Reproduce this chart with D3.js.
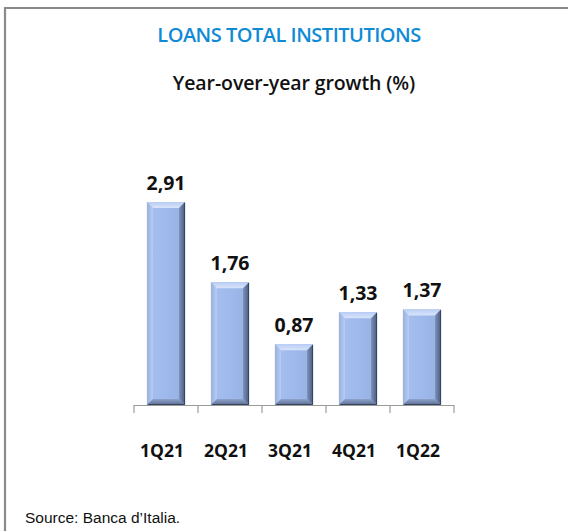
<!DOCTYPE html>
<html>
<head>
<meta charset="utf-8">
<script src="https://cdn.jsdelivr.net/npm/d3@7"></script>
<style>
  html, body { margin: 0; padding: 0; background: #fff; }
  svg { display: block; }
</style>
</head>
<body>
<svg id="chart" width="568" height="531"></svg>
<script>
// Quarterly year-over-year growth of total loans (%)
const quarters = ["1Q21", "2Q21", "3Q21", "4Q21", "1Q22"];
const growth = [2.91, 1.76, 0.87, 1.33, 1.37];
const chartTitle = "LOANS TOTAL INSTITUTIONS";
const chartSubtitle = "Year-over-year growth (%)";
const sourceNote = "Source: Banca d\u2019Italia.";

const svg = d3.select("#chart");
const W = 568, H = 531;
const plot = { left: 134, right: 454, top: 120, bottom: 405 };

// Frame around the panel
svg.append("path")
  .attr("d", `M5,${H + 2} L5,8 L${W + 2},8`)
  .attr("fill", "none")
  .attr("stroke", "#8a8a8a")
  .attr("stroke-width", 2.2);

// Titles
svg.append("text")
  .attr("x", 289).attr("y", 42)
  .attr("text-anchor", "middle")
  .attr("font-family", "'Open Sans', sans-serif")
  .attr("font-weight", 600)
  .attr("font-size", 20)
  .attr("letter-spacing", -0.5)
  .attr("fill", "#0f8bd6")
  .text(chartTitle);

svg.append("text")
  .attr("x", 294).attr("y", 90)
  .attr("text-anchor", "middle")
  .attr("font-family", "'Open Sans', sans-serif")
  .attr("font-weight", 600)
  .attr("font-size", 19.5)
  .attr("letter-spacing", -0.1)
  .attr("fill", "#111")
  .text(chartSubtitle);

// Scales
const x = d3.scaleBand()
  .domain(quarters)
  .range([plot.left, plot.right])
  .paddingInner(0.42)
  .paddingOuter(0.21);

const y = d3.scaleLinear()
  .domain([0, 2.91 / 203 * (plot.bottom - plot.top)])
  .range([plot.bottom, plot.top]);

// Bevel gradients
const defs = svg.append("defs");
function grad(id, x2, y2, stops) {
  const g = defs.append("linearGradient").attr("id", id)
    .attr("x1", 0).attr("y1", 0).attr("x2", x2).attr("y2", y2);
  stops.forEach(([o, c]) => g.append("stop").attr("offset", o).attr("stop-color", c));
}
grad("faceGrad", 1, 0, [[0, "#a6bff0"], [0.5, "#9fb9ec"], [1, "#97b0e2"]]);
grad("topGrad", 0, 1, [[0, "#b9cdf3"], [1, "#d8e4fa"]]);
grad("leftGrad", 1, 0, [[0, "#98b0de"], [1, "#b9ccf2"]]);
grad("rightGrad", 1, 0, [[0, "#7d91bb"], [1, "#4b5a7c"]]);
grad("bottomGrad", 0, 1, [[0, "#8ea3cc"], [1, "#5c6d92"]]);

const bev = 6;
const bars = svg.append("g").selectAll("g")
  .data(quarters.map((q, i) => ({ q, v: growth[i] })))
  .join("g");

bars.each(function (d) {
  const g = d3.select(this);
  const x0 = x(d.q) - 0.5, x1 = x0 + x.bandwidth() + 1;
  const y0 = y(d.v), y1 = y(0);
  const b = Math.min(bev, (y1 - y0) / 2);
  g.append("rect")
    .attr("x", x0).attr("y", y0)
    .attr("width", x1 - x0).attr("height", y1 - y0)
    .attr("fill", "url(#faceGrad)");
  const poly = (pts, fill) => g.append("polygon")
    .attr("points", pts.map(p => p.join(",")).join(" "))
    .attr("fill", fill);
  poly([[x0, y0], [x1, y0], [x1 - b, y0 + b], [x0 + b, y0 + b]], "url(#topGrad)");
  poly([[x0, y0], [x0 + b, y0 + b], [x0 + b, y1 - b], [x0, y1]], "url(#leftGrad)");
  poly([[x1, y0], [x1, y1], [x1 - b, y1 - b], [x1 - b, y0 + b]], "url(#rightGrad)");
  poly([[x0, y1], [x0 + b, y1 - b], [x1 - b, y1 - b], [x1, y1]], "url(#bottomGrad)");
  g.append("path")
    .attr("d", `M${x1 - 0.5},${y0 + 1} L${x1 - 0.5},${y1 - 0.5} L${x0 + 1},${y1 - 0.5}`)
    .attr("fill", "none")
    .attr("stroke", "#37445f")
    .attr("stroke-width", 1);
});

// Value labels
const fmt = v => d3.format(".2f")(v).replace(".", ",");
svg.append("g").selectAll("text")
  .data(quarters.map((q, i) => ({ q, v: growth[i] })))
  .join("text")
  .attr("x", d => x(d.q) + x.bandwidth() / 2)
  .attr("y", d => y(d.v) - 12)
  .attr("text-anchor", "middle")
  .attr("font-family", "'Open Sans', sans-serif")
  .attr("font-weight", 700)
  .attr("font-size", 19.5)
  .attr("fill", "#111")
  .text(d => fmt(d.v));

// Category axis
const xAxis = d3.axisBottom(x)
  .tickSize(0)
  .tickPadding(40);
const axisG = svg.append("g")
  .attr("transform", `translate(0,${plot.bottom})`)
  .call(xAxis);
axisG.select(".domain").remove();
axisG.selectAll("text")
  .attr("dx", -4)
  .attr("font-family", "'Open Sans', sans-serif")
  .attr("font-weight", 700)
  .attr("font-size", 17.5)
  .attr("fill", "#111");

// Baseline and category separators
const step = x.step();
const edges = d3.range(quarters.length + 1).map(i => plot.left + i * step);
svg.append("line")
  .attr("x1", plot.left).attr("x2", plot.right)
  .attr("y1", plot.bottom + 0.5).attr("y2", plot.bottom + 0.5)
  .attr("stroke", "#9a9a9a").attr("stroke-width", 1.2);
svg.append("g").selectAll("line")
  .data(edges)
  .join("line")
  .attr("x1", d => d).attr("x2", d => d)
  .attr("y1", plot.bottom).attr("y2", plot.bottom + 8)
  .attr("stroke", "#9a9a9a").attr("stroke-width", 1.2);

// Source note
svg.append("text")
  .attr("x", 25).attr("y", 523)
  .attr("font-family", "Arial, 'Liberation Sans', sans-serif")
  .attr("font-size", 15.5)
  .attr("fill", "#111")
  .text(sourceNote);
</script>
</body>
</html>
